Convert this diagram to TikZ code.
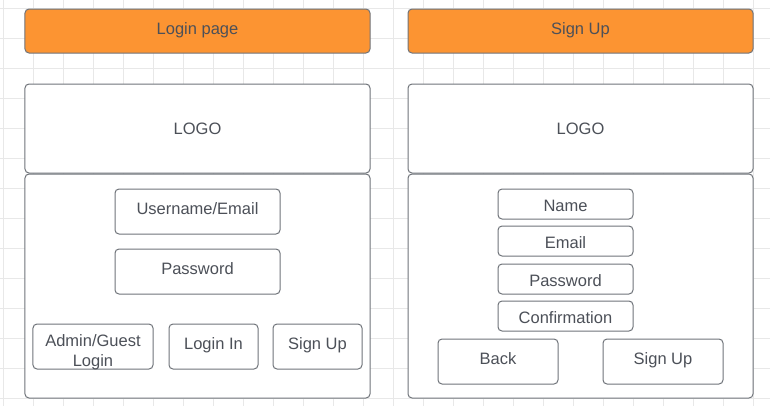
\documentclass[tikz,border=0pt]{standalone}
\usepackage{fontspec}
\setmainfont{Liberation Sans}
\definecolor{gridgray}{RGB}{232,232,232}
\definecolor{boxline}{RGB}{112,116,122}
\definecolor{headorange}{RGB}{252,148,50}
\definecolor{labeltext}{RGB}{76,80,88}
\tikzset{
  panel/.style={draw=boxline, fill=white, rounded corners=4bp, line width=1bp,
    inner sep=0pt, text=labeltext, align=center,
    font=\fontsize{16.5bp}{20bp}\selectfont, text height=12bp, text depth=6bp},
  header/.style={panel, fill=headorange, minimum width=345bp, minimum height=44bp},
  logobox/.style={panel, minimum width=345bp, minimum height=89bp, text depth=0bp},
  bodybox/.style={panel, minimum width=345bp, minimum height=224bp},
  wideinput/.style={panel, minimum width=165bp, minimum height=45bp},
  slimfield/.style={panel, minimum width=135bp, minimum height=30bp,
    text height=15bp, text depth=0bp},
  button/.style={panel, minimum width=#1, minimum height=45bp},
  twoline/.style={text height=40bp, text depth=1bp},
  gridline/.style={draw=gridgray, line width=1bp},
}
\begin{document}
\begin{tikzpicture}[x=1bp, y=-1bp]
      \useasboundingbox (0,0) rectangle (770,406);
      \fill[white] (0,0) rectangle (770,406);
      \foreach \x in {3,33,...,783}
        \draw[gridline] (\x,0) -- (\x,406);
      \foreach \y in {8,38,...,398}
        \draw[gridline] (0,\y) -- (770,\y);
      \path
        (197.5,31) node[header] (loginhead){Login page}
        (197.5,128.5) node[logobox] (loginlogo){LOGO}
        (197.5,286) node[bodybox] (loginbody){}
        (197.5,211.5) node[wideinput] (username){Username/Email}
        (197.5,271.5) node[wideinput] (password){Password}
        (93,346.5) node[button=120bp, twoline] (guest){Admin/Guest\\Login}
        (213.5,346.5) node[button=89bp] (loginbtn){Login In}
        (317.5,346.5) node[button=89bp] (gosignup){Sign Up};
      \path
        (580.5,31) node[header] (signuphead){Sign Up}
        (580.5,128.5) node[logobox] (signuplogo){LOGO}
        (580.5,286) node[bodybox] (signupbody){}
        (565.5,204) node[slimfield] (name){Name}
        (565.5,241) node[slimfield] (email){Email}
        (565.5,279) node[slimfield] (newpass){Password}
        (565.5,316) node[slimfield] (confirm){Confirmation}
        (498,361.5) node[button=120bp] (back){Back}
        (663,361.5) node[button=120bp] (signupbtn){Sign Up};
    \end{tikzpicture}
\end{document}
